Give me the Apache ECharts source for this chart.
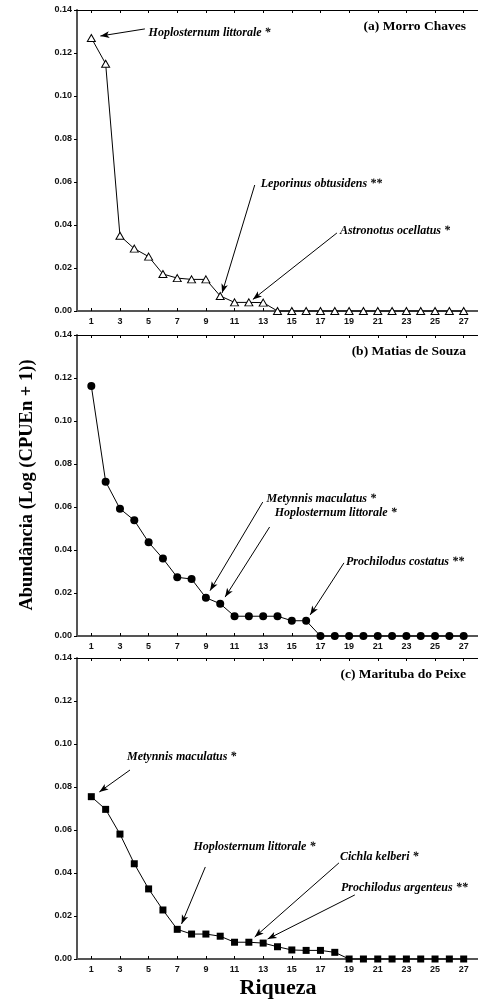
<!DOCTYPE html>
<html>
<head>
<meta charset="utf-8">
<script src="https://cdn.jsdelivr.net/npm/echarts@6/dist/echarts.min.js"></script>
<style>
  html, body { margin: 0; padding: 0; background: #fff; }
  #chart { width: 478px; height: 1002px; }
</style>
</head>
<body>
<div id="chart"></div>
<script>
// Species rank (richness) on x, abundance Log(CPUEn + 1) on y
const richness = [1,2,3,4,5,6,7,8,9,10,11,12,13,14,15,16,17,18,19,20,21,22,23,24,25,26,27];

const morroChaves = [0.127,0.115,0.035,0.029,0.0253,0.0172,0.0153,0.0147,0.0147,0.0070,0.0040,0.0040,0.0039,
                     0,0,0,0,0,0,0,0,0,0,0,0,0,0];
const matiasDeSouza = [0.1163,0.0718,0.0592,0.0538,0.0436,0.0360,0.0273,0.0265,0.0178,0.0150,0.0092,0.0092,0.0092,0.0092,
                       0.0071,0.0071,0,0,0,0,0,0,0,0,0,0,0];
const maritubaDoPeixe = [0.0755,0.0696,0.0581,0.0443,0.0326,0.0228,0.0138,0.0116,0.0116,0.0106,0.0078,0.0078,0.0074,
                         0.0057,0.0042,0.0040,0.0040,0.0031,0,0,0,0,0,0,0,0,0];

const panelTitles = ['(a) Morro Chaves', '(b) Matias de Souza', '(c) Marituba do Peixe'];
const xTickValues = [1,3,5,7,9,11,13,15,17,19,21,23,25,27];

// Annotated species per panel: name, text anchor, arrow start and arrow tip (data coords)
const notes = [
  [
    { name: 'Hoplosternum littorale *', text: [5.0, 0.1293], from: [4.74, 0.1312], to: [1.63, 0.1279] },
    { name: 'Leporinus obtusidens **', text: [12.83, 0.0591], from: [12.41, 0.0586], to: [10.13, 0.0084] },
    { name: 'Astronotus ocellatus *', text: [18.36, 0.0372], from: [18.15, 0.0363], to: [12.28, 0.0054] }
  ],
  [
    { name: 'Metynnis maculatus *', text: [13.24, 0.0637], from: [12.97, 0.0623], to: [9.29, 0.0211] },
    { name: 'Hoplosternum littorale *', text: [13.8, 0.0572], from: [13.45, 0.0507], to: [10.34, 0.0181] },
    { name: 'Prochilodus costatus **', text: [18.78, 0.0344], from: [18.64, 0.0340], to: [16.28, 0.0098] }
  ],
  [
    { name: 'Metynnis maculatus *', text: [3.49, 0.0938], from: [3.7, 0.0879], to: [1.56, 0.0777] },
    { name: 'Hoplosternum littorale *', text: [8.13, 0.0521], from: [8.96, 0.0428], to: [7.3, 0.0163] },
    { name: 'Cichla kelberi *', text: [18.36, 0.0474], from: [18.29, 0.0447], to: [12.41, 0.0102] },
    { name: 'Prochilodus argenteus **', text: [18.43, 0.0330], from: [19.4, 0.0298], to: [13.31, 0.0093] }
  ]
];

const SERIF = "'Liberation Serif', 'DejaVu Serif', serif";
const SANS = "'Liberation Sans', Arial, sans-serif";

const panelTops = [10, 335, 658];
const plotHeight = 301;
const plotLeft = 77;
const plotWidth = 405;

const panelData = [morroChaves, matiasDeSouza, maritubaDoPeixe];
const markerStyles = [
  { symbol: 'triangle', symbolSize: [8, 7], itemStyle: { color: '#fff', borderColor: '#000', borderWidth: 1 } },
  { symbol: 'circle', symbolSize: 8, itemStyle: { color: '#000', borderColor: '#000', borderWidth: 0 } },
  { symbol: 'rect', symbolSize: 7, itemStyle: { color: '#000', borderColor: '#000', borderWidth: 0 } }
];

const grids = [], xAxes = [], yAxes = [], series = [], graphics = [];

panelData.forEach((vals, p) => {
  grids.push({ left: plotLeft, top: panelTops[p], width: plotWidth, height: plotHeight, containLabel: false });

  // bottom axis with odd-numbered ticks and labels
  xAxes.push({
    type: 'value', gridIndex: p, min: 0, max: 28, interval: 1, position: 'bottom',
    axisLine: { show: true, lineStyle: { color: '#555', width: 2 } },
    axisTick: { show: true, inside: true, length: 3, customValues: xTickValues, lineStyle: { color: '#000', width: 1 } },
    axisLabel: { show: true, customValues: xTickValues, fontFamily: SANS, fontWeight: 'bold', fontSize: 9, color: '#111', margin: 6 },
    splitLine: { show: false }
  });
  // top frame line with inward ticks
  xAxes.push({
    type: 'value', gridIndex: p, min: 0, max: 28, interval: 1, position: 'top',
    axisLine: { show: true, lineStyle: { color: '#000', width: 1 } },
    axisTick: { show: true, inside: true, length: 3, customValues: xTickValues, lineStyle: { color: '#000', width: 1 } },
    axisLabel: { show: false },
    splitLine: { show: false }
  });

  yAxes.push({
    type: 'value', gridIndex: p, min: 0, max: 0.14, interval: 0.02,
    axisLine: { show: true, lineStyle: { color: '#555', width: 2 } },
    axisTick: { show: true, inside: false, length: 3, lineStyle: { color: '#000', width: 1 } },
    axisLabel: { fontFamily: SANS, fontWeight: 'bold', fontSize: 9, color: '#111', margin: 5,
                 formatter: v => v.toFixed(2) },
    splitLine: { show: false }
  });

  const ms = markerStyles[p];
  series.push({
    type: 'line',
    xAxisIndex: p * 2, yAxisIndex: p,
    data: richness.map((r, i) => [r, vals[i]]),
    symbol: ms.symbol, symbolSize: ms.symbolSize, showSymbol: true,
    itemStyle: ms.itemStyle,
    lineStyle: { color: '#000', width: 1 },
    z: 3,
    clip: false,
    animation: false,
    markLine: {
      silent: true, animation: false,
      symbol: ['none', 'arrow'], symbolSize: [5, 9],
      lineStyle: { color: '#000', width: 1, type: 'solid' },
      label: { show: false },
      data: notes[p].map(n => [{ coord: n.from }, { coord: n.to }])
    },
    markPoint: {
      silent: true, animation: false,
      symbol: 'circle', symbolSize: 0,
      label: { show: true, position: 'inside', align: 'left', verticalAlign: 'middle',
               fontFamily: SERIF, fontStyle: 'italic', fontWeight: 'bold', fontSize: 12, color: '#000',
               formatter: d => d.name },
      data: notes[p].map(n => ({ name: n.name, coord: n.text }))
    }
  });

  graphics.push({
    type: 'text', right: 12, top: panelTops[p] + 10,
    style: { text: panelTitles[p], font: "bold 13.5px " + SERIF, fill: '#000', textAlign: 'right' }
  });
});

graphics.push({
  type: 'text', x: 27, y: 485, rotation: Math.PI / 2,
  style: { text: 'Abundância (Log (CPUEn + 1))', font: "bold 18.5px " + SERIF, fill: '#000',
           textAlign: 'center', textVerticalAlign: 'middle' }
});
graphics.push({
  type: 'text', x: 278, y: 988,
  style: { text: 'Riqueza', font: "bold 22px " + SERIF, fill: '#000',
           textAlign: 'center', textVerticalAlign: 'middle' }
});

const chart = echarts.init(document.getElementById('chart'), null, { renderer: 'canvas' });
chart.setOption({
  backgroundColor: '#fff',
  animation: false,
  grid: grids,
  xAxis: xAxes,
  yAxis: yAxes,
  series: series,
  graphic: graphics
});
</script>
</body>
</html>
